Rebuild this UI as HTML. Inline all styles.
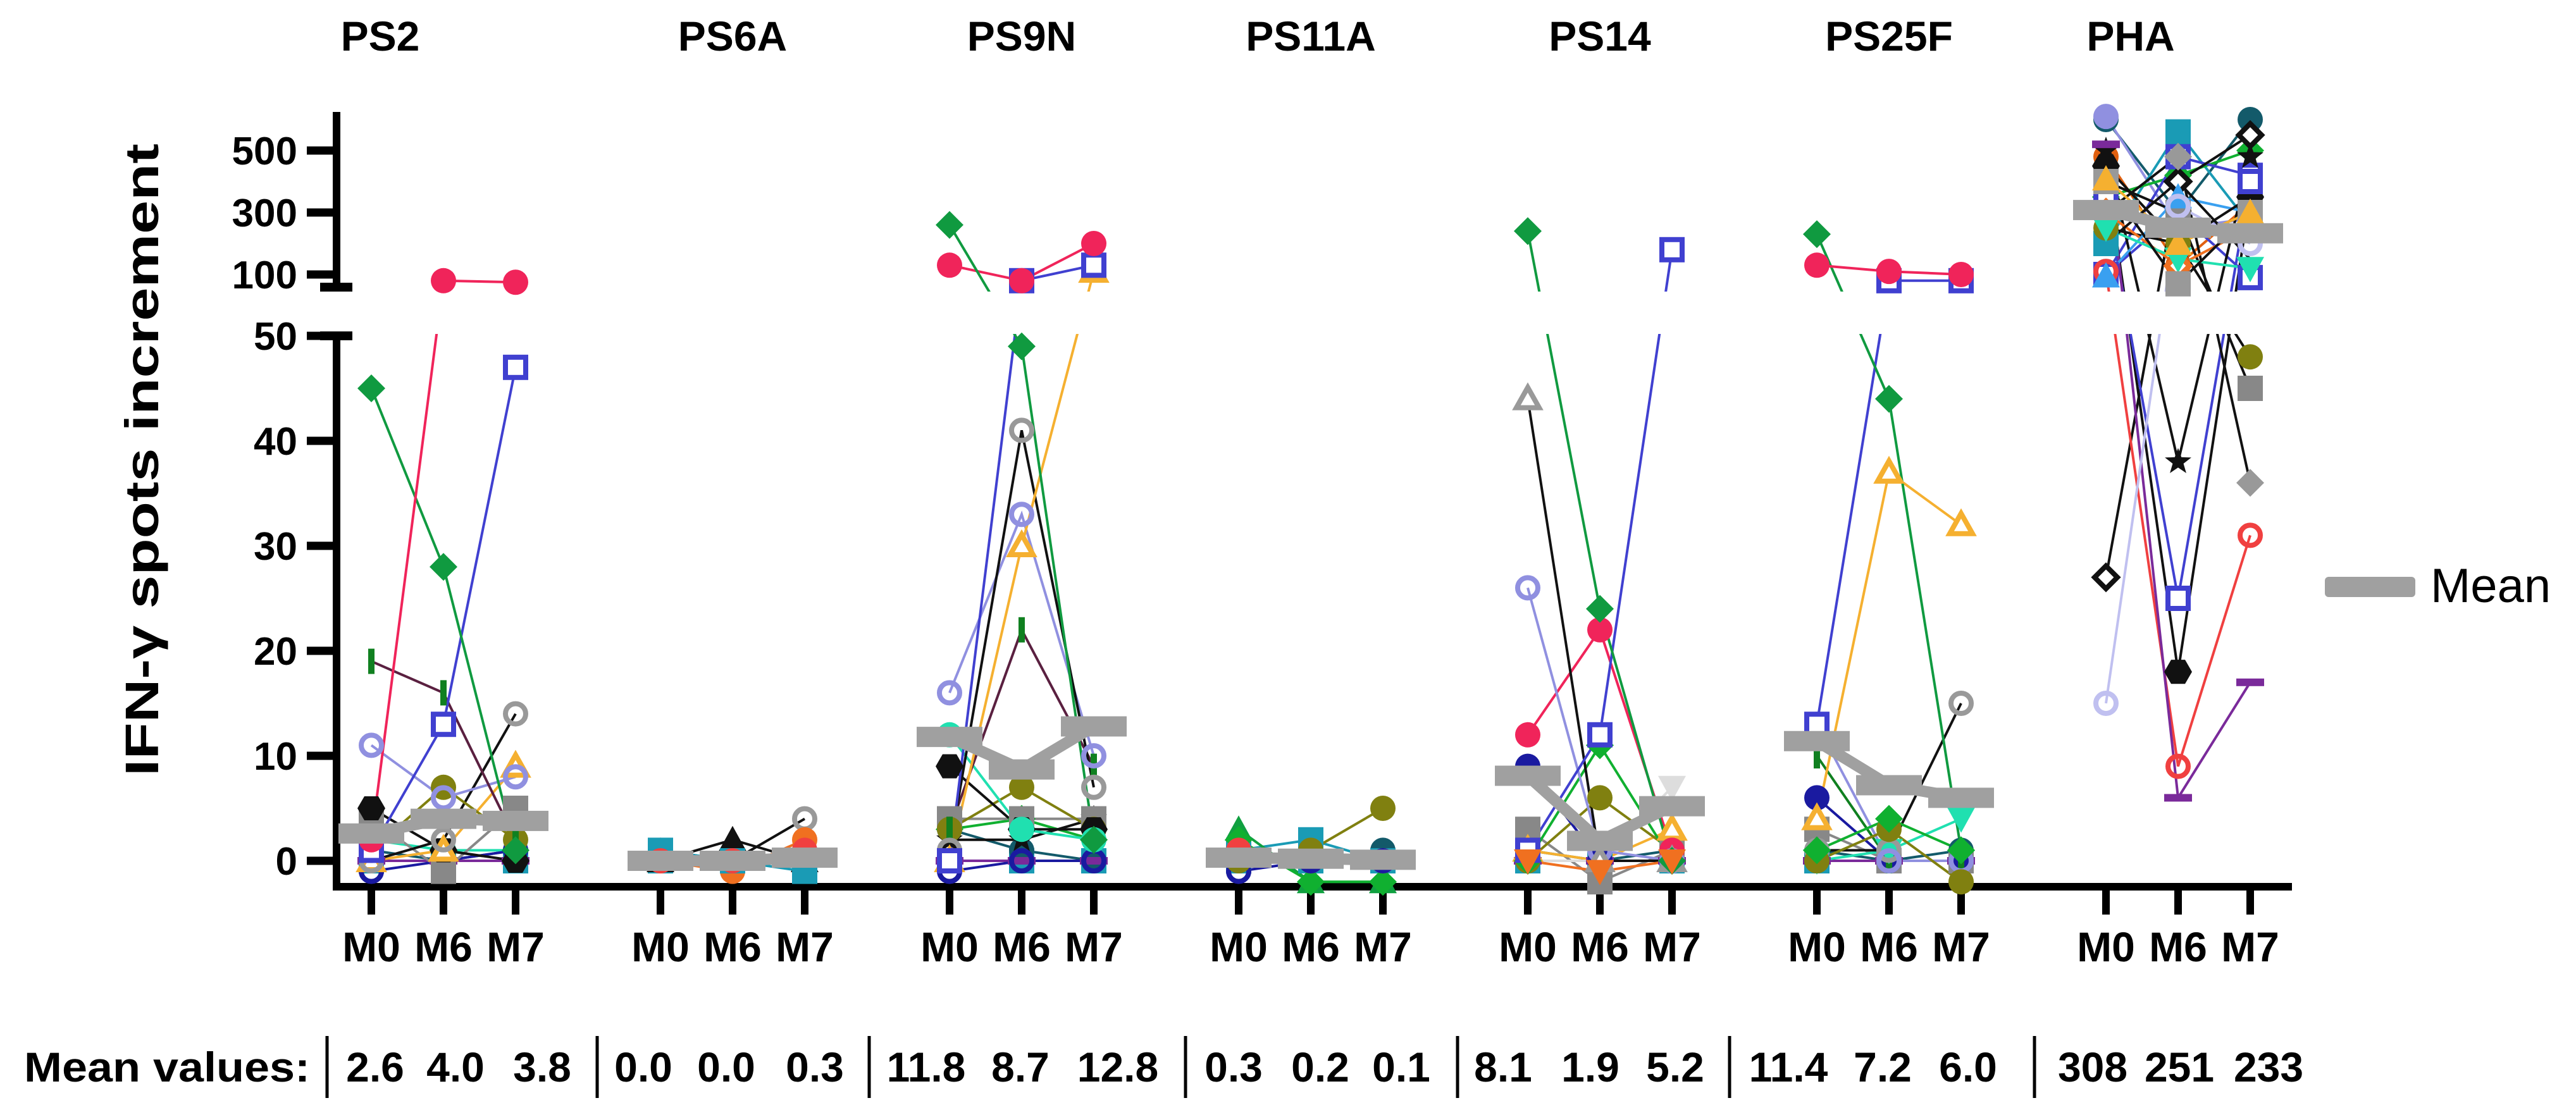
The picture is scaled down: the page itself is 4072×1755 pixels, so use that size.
<!DOCTYPE html>
<html><head><meta charset="utf-8"><title>IFN-γ spots increment</title>
<style>
html,body{margin:0;padding:0;background:#fff;}
svg{display:block;}
text{font-family:"Liberation Sans",Arial,sans-serif;}
</style></head>
<body>
<svg id="chart" width="4072" height="1755" viewBox="0 0 4072 1755" xmlns="http://www.w3.org/2000/svg">
<defs>
<clipPath id="breakClip"><rect x="0" y="0" width="4072" height="461"/><rect x="0" y="528" width="4072" height="1227"/></clipPath>
</defs>
<g id="axes"></g>
<g id="lines" clip-path="url(#breakClip)"></g>
<g id="markers"></g>
<g id="means"></g>
<g id="labels"></g>
</svg>
<script>
const groups=["PS2","PS6A","PS9N","PS11A","PS14","PS25F","PHA"];
const timepoints=["M0","M6","M7"];
const meanValues=[[2.6,4.0,3.8],[0.0,0.0,0.3],[11.8,8.7,12.8],[0.3,0.2,0.1],[8.1,1.9,5.2],[11.4,7.2,6.0],[308,251,233]];
const meanLabels=[["2.6","4.0","3.8"],["0.0","0.0","0.3"],["11.8","8.7","12.8"],["0.3","0.2","0.1"],["8.1","1.9","5.2"],["11.4","7.2","6.0"],["308","251","233"]];
const upperTicks=[100,300,500];
const lowerTicks=[0,10,20,30,40,50];

const ps2Values=[[0,0,0],[1,0,1],[0,0,0],[2,1,1],[-1,0,1],[4,-1,5],[5,1,0],[0,1,9],[0,2,14],[1,7,2],[11,6,8],[19,16,2],[1,13,47],[45,28,1],[2,80,75]];
const ps2Styles=[["#1a9bb5","sq"],["#135a6a","circle"],["#7a2a9a","hbar"],["#20e0b0","circle"],["#1a1aa0","ring"],["#888888","sq"],["#111111","hex"],["#f5b030","otri"],["#999999","ring","#111"],["#808010","circle"],["#9090e0","ring"],["#108020","bar","#5a2040"],["#4040d0","osq"],["#109a40","dia"],["#f0245a","circle"]];

const ps6aValues=[[0,0,0],[1,0,1],[0,0,0],[0,2,0],[0,0,4],[0,-1,2],[1,0,-1],[0,0,1]];
const ps6aStyles=[["#1a9bb5","sq"],["#135a6a","circle"],["#7a2a9a","hbar"],["#111111","tri"],["#999999","ring","#111"],["#f07020","circle"],["#1a9bb5","sq"],["#f04040","circle"]];

const ps9nValues=[[0,0,0],[3,1,0],[0,0,0],[-1,0,0],[2,2,4],[3,4,2],[4,4,4],[3,7,3],[9,3,3],[12,3,2],[3,22,9],[16,33,10],[1,41,7],[0,30,110],[0,80,130],[130,80,200],[260,49,2]];
const ps9nStyles=[["#1a9bb5","sq"],["#135a6a","circle"],["#7a2a9a","hbar"],["#1a1aa0","ring"],["#111111","star"],["#10b030","dia"],["#888888","sq"],["#808010","circle"],["#111111","hex"],["#20e0b0","circle"],["#108020","bar","#5a2040"],["#9090e0","ring"],["#999999","ring","#111"],["#f5b030","otri"],["#4040d0","osq"],["#f0245a","circle"],["#109a40","dia"]];

const ps11aValues=[[0,0,0],[0,0,1],[0,0,0],[1,2,0],[3,-2,-2],[2,-2,-2],[1,0,0],[-1,0,0],[0,1,5]];
const ps11aStyles=[["#1a9bb5","sq"],["#135a6a","circle"],["#7a2a9a","hbar"],["#1a9bb5","sq"],["#10a040","tri"],["#10b030","dia"],["#f04040","circle"],["#1a1aa0","ring"],["#808010","circle"]];

const ps14Values=[[0,0,0],[1,0,1],[0,0,0],[3,-2,1],[1,0,3],[0,0,7],[0,6,1],[0,11,0],[9,0,0],[12,22,1],[26,1,0],[44,0,0],[1,12,180],[240,24,0],[0,-1,0]];
const ps14Styles=[["#1a9bb5","sq"],["#135a6a","circle"],["#7a2a9a","hbar"],["#888888","sq"],["#f5b030","otri"],["#dddddd","vtri"],["#808010","circle"],["#10b030","dia"],["#1a1aa0","circle"],["#f0245a","circle"],["#9090e0","ring"],["#999999","otri","#111"],["#4040d0","osq"],["#109a40","dia"],["#f07020","vtri"]];

const ps25fValues=[[0,0,0],[1,0,1],[0,0,0],[3,0,0],[6,0,0],[10,0,0],[0,1,4],[1,1,15],[13,0,0],[4,37,32],[0,3,-2],[13,80,80],[230,44,1],[130,110,100],[1,4,1]];
const ps25fStyles=[["#1a9bb5","sq"],["#135a6a","circle"],["#7a2a9a","hbar"],["#888888","sq"],["#1a1aa0","circle"],["#108020","bar"],["#20e0b0","vtri"],["#999999","ring","#111"],["#9090e0","ring"],["#f5b030","otri"],["#808010","circle"],["#4040d0","osq"],["#109a40","dia"],["#f0245a","circle"],["#10b030","dia"]];

const phaValues=[[600,300,600],[610,250,280],[480,130,330],[200,560,260],[350,420,500],[100,480,420],[100,300,90],[27,400,550],[500,38,480],[450,18,350],[350,25,400],[110,9,31],[520,6,17],[300,480,36],[250,200,48],[400,300,45],[300,128,250],[95,350,300],[250,150,120],[400,70,300],[408,200,300],[15,320,200],[200,400,150],[450,200,350]];
const phaStyles=[["#135a6a","circle"],["#9090e0","circle"],["#e06010","circle"],["#1a9bb5","sq"],["#10b030","dia"],["#4040d0","osq"],["#4040d0","osq"],["#111111","odia"],["#111111","star"],["#111111","hex"],["#4040d0","osq"],["#f04040","ring"],["#7a2a9a","hbar"],["#999999","dia","#111"],["#808010","circle","#111"],["#888888","sq","#111"],["#f07020","odia"],["#3aa0f0","tri"],["#20e0b0","vtri"],["#999999","sq","#111"],["#f5b030","tri"],["#c0c0f0","ring"],["#111111","none"],["#111111","none"]];

const groupValues=[ps2Values,ps6aValues,ps9nValues,ps11aValues,ps14Values,ps25fValues,phaValues];
const groupStyles=[ps2Styles,ps6aStyles,ps9nStyles,ps11aStyles,ps14Styles,ps25fStyles,phaStyles];
const titleOffset=[-100,0,0,0,0,0,-75];

const NS="http://www.w3.org/2000/svg";
function xPos(g,i){return 587+457*g+114*i;}
function yPos(v){
  if(v<=50) return 1361-v*16.6;
  if(v>=58) return 434-(v-100)*0.49;
  return 531+(v-50)/8*(454.6-531);
}
function mk(tag,attrs,parent){const e=document.createElementNS(NS,tag);for(const k in attrs)e.setAttribute(k,attrs[k]);parent.appendChild(e);return e;}

const axes=document.getElementById('axes');
const linesG=document.getElementById('lines');
const markG=document.getElementById('markers');
const meanG=document.getElementById('means');
const labG=document.getElementById('labels');

let e;
e=mk('line',{x1:532,y1:177,x2:532,y2:454,stroke:'#000','stroke-width':12},axes);


e=mk('line',{x1:532,y1:531,x2:532,y2:1408,stroke:'#000','stroke-width':12},axes);


e=mk('line',{x1:526,y1:1402,x2:3623,y2:1402,stroke:'#000','stroke-width':12},axes);


[454,531].forEach(y=>{
  e=mk('line',{x1:506,y1:y,x2:557,y2:y,stroke:'#000','stroke-width':14},axes);
  
  
});
upperTicks.concat(lowerTicks).forEach((t,k)=>{
  const y=yPos(t);
  e=mk('line',{x1:485,y1:y,x2:532,y2:y,stroke:'#000','stroke-width':13},axes);
  
  
  e=mk('text',{x:470,y:y+22,'text-anchor':'end','font-size':62,'font-weight':'bold'},axes);
  e.textContent=String(t);
  
  
});
groups.forEach((gname,g)=>{
  timepoints.forEach((tp,i)=>{
    const x=xPos(g,i);
    e=mk('line',{x1:x,y1:1402,x2:x,y2:1446,stroke:'#000','stroke-width':12},axes);
    
    
    e=mk('text',{x:x,y:1520,'text-anchor':'middle','font-size':66,'font-weight':'bold'},labG);
    e.textContent=tp;
    
    
  });
  e=mk('text',{x:xPos(g,1)+titleOffset[g],y:80,'text-anchor':'middle','font-size':66,'font-weight':'bold'},labG);
  e.textContent=gname;
  
  
});

function marker(shape,x,y,color,parent){
  const r=20;let el;
  switch(shape){
    case 'circle': el=mk('circle',{cx:x,cy:y,r:r,fill:color},parent);break;
    case 'ring': el=mk('circle',{cx:x,cy:y,r:16,fill:'none',stroke:color,'stroke-width':8},parent);break;
    case 'sq': el=mk('rect',{x:x-20,y:y-20,width:40,height:40,fill:color},parent);break;
    case 'osq': el=mk('rect',{x:x-16,y:y-16,width:32,height:32,fill:'#fff',stroke:color,'stroke-width':8},parent);break;
    case 'dia': el=mk('polygon',{points:`${x},${y-22} ${x+22},${y} ${x},${y+22} ${x-22},${y}`,fill:color},parent);break;
    case 'odia': el=mk('polygon',{points:`${x},${y-18} ${x+18},${y} ${x},${y+18} ${x-18},${y}`,fill:'#fff',stroke:color,'stroke-width':8},parent);break;
    case 'tri': el=mk('polygon',{points:`${x},${y-22} ${x+22},${y+18} ${x-22},${y+18}`,fill:color},parent);break;
    case 'otri': el=mk('polygon',{points:`${x},${y-18} ${x+18},${y+14} ${x-18},${y+14}`,fill:'#fff',stroke:color,'stroke-width':8},parent);break;
    case 'vtri': el=mk('polygon',{points:`${x},${y+22} ${x+22},${y-18} ${x-22},${y-18}`,fill:color},parent);break;
    case 'hex': el=mk('polygon',{points:[0,1,2,3,4,5].map(k=>{const a=Math.PI/3*k;return (x+22*Math.cos(a))+','+(y+22*Math.sin(a));}).join(' '),fill:color},parent);break;
    case 'star': el=mk('polygon',{points:[0,1,2,3,4,5,6,7,8,9].map(k=>{const a=-Math.PI/2+Math.PI/5*k;const rr=k%2?9:22;return (x+rr*Math.cos(a))+','+(y+rr*Math.sin(a));}).join(' '),fill:color},parent);break;
    case 'bar': el=mk('rect',{x:x-5,y:y-20,width:10,height:40,fill:color},parent);break;
    case 'hbar': el=mk('rect',{x:x-22,y:y-6,width:44,height:12,fill:color},parent);break;
    default: return;
  }
  
  
}

groupValues.forEach((series,g)=>{
  series.forEach((vals,s)=>{
    const st=groupStyles[g][s];
    const lineColor=st[2]||st[0];
    const pts=vals.map((v,i)=>xPos(g,i)+','+yPos(v)).join(' ');
    const pl=mk('polyline',{points:pts,fill:'none',stroke:lineColor,'stroke-width':4},linesG);
    
    
    vals.forEach((v,i)=>marker(st[1],xPos(g,i),yPos(v),st[0],markG));
  });
  const mv=meanValues[g];
  const mp=mk('polyline',{points:mv.map((v,i)=>xPos(g,i)+','+yPos(v)).join(' '),fill:'none',stroke:'#a0a0a0','stroke-width':18},meanG);
  
  
  mv.forEach((v,i)=>{
    const r=mk('rect',{x:xPos(g,i)-52,y:yPos(v)-16,width:104,height:32,fill:'#a0a0a0'},meanG);
    
    
  });
});

const sepX=[517,944,1374,1874,2304,2734,3216];
const valX=[[593,720,857],[1017,1148,1288],[1464,1613,1767],[1950,2087,2215],[2376,2514,2648],[2827,2976,3111],[3308,3445,3586]];
sepX.forEach(x=>{
  e=mk('line',{x1:x,y1:1638,x2:x,y2:1736,stroke:'#000','stroke-width':5},labG);
  
  
});
meanLabels.forEach((row,g)=>row.forEach((t,i)=>{
  e=mk('text',{x:valX[g][i],y:1710,'text-anchor':'middle','font-size':66,'font-weight':'bold'},labG);
  e.textContent=t;
  
  
}));
</script>
<svg style="position:absolute;left:0;top:0" width="4072" height="1755">
<text x="38" y="1710" font-size="66" font-weight="bold" font-family="Liberation Sans, sans-serif" textLength="452" lengthAdjust="spacingAndGlyphs">Mean values:</text>
<text transform="translate(250,727) rotate(-90)" text-anchor="middle" font-size="74" font-weight="bold" font-family="Liberation Sans, DejaVu Sans, sans-serif" textLength="1000" lengthAdjust="spacingAndGlyphs">IFN-γ spots increment</text>
<rect x="3675" y="912" width="143" height="32" rx="6" fill="#a0a0a0"/>
<text x="3842" y="952" font-size="76" font-family="Liberation Sans, sans-serif">Mean</text>
</svg>
</body></html>
